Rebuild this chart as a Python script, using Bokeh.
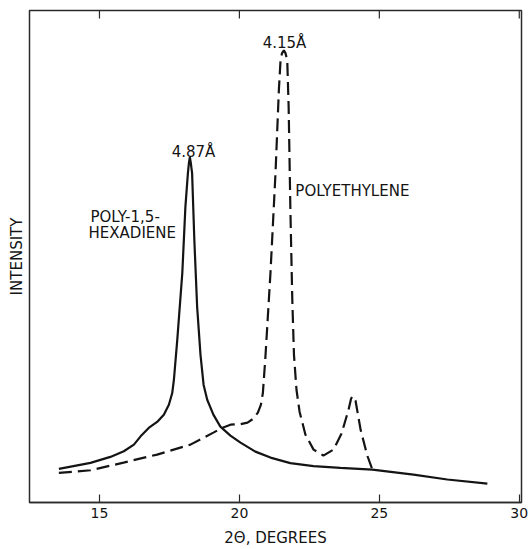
from bokeh.plotting import figure
from bokeh.models import Range1d, FixedTicker, Label
from bokeh.embed import file_html
from bokeh.resources import INLINE

# 2-theta (degrees) and relative intensity
hexadiene_x = [13.55, 14.68, 15.39, 15.87, 16.23, 16.47, 16.76, 17.06, 17.30, 17.48,
               17.60, 17.66, 17.78, 17.96, 18.07, 18.16, 18.20, 18.23, 18.26, 18.31,
               18.39, 18.49, 18.61, 18.72, 18.85, 19.07, 19.32, 19.68, 20.04, 20.57,
               21.11, 21.82, 22.65, 23.61, 24.75, 26.22, 27.43, 28.86]
hexadiene_y = [6.84, 8.05, 9.27, 10.41, 11.76, 13.45, 15.15, 16.37, 17.85, 19.88,
               22.25, 24.95, 33.06, 46.65, 60.04, 66.94, 69.17, 70.18, 69.17, 66.94,
               53.35, 39.76, 30.02, 23.94, 20.89, 17.85, 15.42, 13.59, 12.17, 10.34,
               9.13, 8.01, 7.40, 7.04, 6.69, 5.68, 4.67, 3.85]

polyethylene_x = [13.55, 14.68, 15.86, 17.06, 18.25, 19.07, 19.40, 19.68, 20.04, 20.29,
                  20.50, 20.66, 20.77, 20.84, 20.93, 21.02, 21.11, 21.29, 21.41, 21.47,
                  21.52, 21.59, 21.65, 21.71, 21.76, 21.82, 21.89, 21.95, 22.04, 22.15,
                  22.36, 22.65, 23.00, 23.36, 23.65, 23.90, 23.99, 24.04, 24.15, 24.33,
                  24.57, 24.75]
polyethylene_y = [6.02, 6.55, 8.11, 9.74, 11.76, 14.20, 15.21, 15.82, 15.92, 16.23,
                  17.04, 18.26, 19.88, 22.31, 29.61, 38.13, 46.65, 66.94, 83.77, 89.86,
                  91.28, 91.89, 91.28, 89.86, 80.32, 60.04, 41.18, 30.02, 22.92, 18.46,
                  13.79, 10.75, 9.53, 10.75, 14.00, 18.86, 21.10, 21.60, 20.69, 14.81,
                  9.53, 6.69]

x_ticks = [15, 20, 25, 30]
x_title = "2Θ, DEGREES"
y_title = "INTENSITY"

FONT = "DejaVu Sans"
INK = "#141414"
FRAME = "#2a2a2a"

Y_TOP = 100
p = figure(width=528, height=549, output_backend="svg", toolbar_location=None,
           x_range=Range1d(12.5, 30.08), y_range=Range1d(0, Y_TOP),
           min_border_left=29, min_border_right=7, min_border_top=10,
           min_border_bottom=46, x_axis_label=x_title, y_axis_label=y_title)
p.grid.visible = False
p.background_fill_color = "white"
p.border_fill_color = "white"
p.outline_line_color = FRAME
p.outline_line_width = 1.5

xa = p.xaxis[0]
xa.ticker = FixedTicker(ticks=x_ticks)
xa.major_tick_in = 8
xa.major_tick_out = 0
xa.minor_tick_in = 0
xa.minor_tick_out = 0
xa.major_tick_line_color = FRAME
xa.major_tick_line_width = 1.2
xa.axis_line_color = FRAME
xa.axis_line_width = 1.5
xa.major_label_text_font = FONT
xa.major_label_text_font_size = "14px"
xa.major_label_text_color = INK
xa.major_label_standoff = 5
xa.axis_label_text_font = FONT
xa.axis_label_text_font_size = "15px"
xa.axis_label_text_font_style = "normal"
xa.axis_label_text_color = INK
xa.axis_label_standoff = 8

ya = p.yaxis[0]
ya.ticker = FixedTicker(ticks=[])
ya.axis_line_color = None
ya.major_tick_line_color = None
ya.minor_tick_line_color = None
ya.axis_label_text_font = FONT
ya.axis_label_text_font_size = "15px"
ya.axis_label_text_font_style = "normal"
ya.axis_label_text_color = INK
ya.axis_label_standoff = 4

# inward tick marks along the top edge of the frame (same positions as the bottom axis)
tick_len = Y_TOP * 8 / 493
p.segment(x0=x_ticks, y0=[Y_TOP] * len(x_ticks), x1=x_ticks,
          y1=[Y_TOP - tick_len] * len(x_ticks), line_color=FRAME, line_width=1.2)

p.line(hexadiene_x, hexadiene_y, line_color=INK, line_width=2.2)
p.line(polyethylene_x, polyethylene_y, line_color=INK, line_width=2.2, line_dash="13 6")

def lab(x, y, t, align):
    p.add_layout(Label(x=x, y=y, text=t, text_font=FONT, text_font_size="15px",
                       text_color=INK, text_align=align, text_baseline="alphabetic"))

lab(18.36, 71.2, "4.87Å", "center")
lab(21.61, 93.3, "4.15Å", "center")
lab(22.00, 63.35, "POLYETHYLENE", "left")
lab(14.68, 58.07, "POLY-1,5-", "left")
lab(14.61, 54.77, "HEXADIENE", "left")

open("out.html", "w").write(file_html(p, INLINE))
